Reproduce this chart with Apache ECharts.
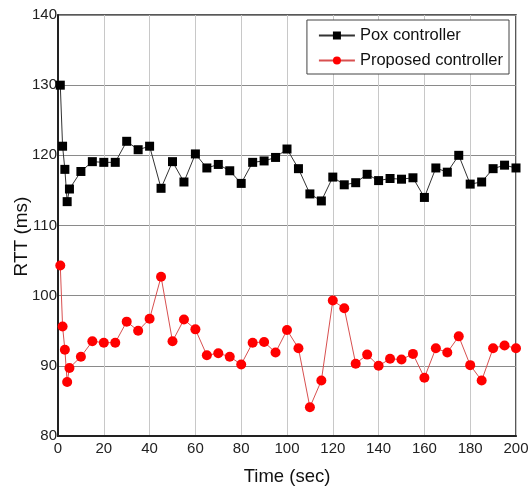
<!DOCTYPE html>
<html><head><meta charset="utf-8">
<script src="https://cdn.jsdelivr.net/npm/echarts@6/dist/echarts.min.js"></script>
<style>html,body{margin:0;padding:0;background:#fff}#c{width:528px;height:488px}</style>
</head><body><div id="c"></div>
<script>
const times = [1,2,3,4,5,10,15,20,25,30,35,40,45,50,55,60,65,70,75,80,85,90,95,100,105,110,115,120,125,130,135,140,145,150,155,160,165,170,175,180,185,190,195,200];
const poxValues = [130,121.3,118.0,113.4,115.2,117.7,119.1,119.0,119.0,122.0,120.8,121.3,115.3,119.1,116.2,120.2,118.2,118.7,117.8,116.0,119.0,119.2,119.7,120.9,118.1,114.5,113.5,116.9,115.8,116.1,117.3,116.4,116.7,116.6,116.8,114.0,118.2,117.6,120.0,115.9,116.2,118.1,118.6,118.2];
const proposedValues = [104.3,95.6,92.3,87.7,89.7,91.3,93.5,93.3,93.3,96.3,95.0,96.7,102.7,93.5,96.6,95.2,91.5,91.8,91.3,90.2,93.3,93.4,91.9,95.1,92.5,84.1,87.9,99.3,98.2,90.3,91.6,90.0,91.0,90.9,91.7,88.3,92.5,91.9,94.2,90.1,87.9,92.5,92.9,92.5];
const seriesNames = ['Pox controller','Proposed controller'];
const xTicks = {min:0,max:200,interval:20};
const yTicks = {min:80,max:140,interval:10};

const font = 'Liberation Sans';
const chart = echarts.init(document.getElementById('c'));
chart.setOption({
  animation:false,
  backgroundColor:'#fff',
  grid:{left:58,right:12,top:15,bottom:52,show:true,borderColor:'#222',borderWidth:1.5,
        containLabel:false,outerBoundsMode:'none'},
  legend:{
    orient:'vertical', right:19, top:20,
    backgroundColor:'#fff', borderColor:'#444', borderWidth:1,
    padding:[7,6,5,11], itemGap:8, itemWidth:36, itemHeight:10,
    textStyle:{fontFamily:font,fontSize:16.5,color:'#111'},
    data:seriesNames
  },
  xAxis:{
    type:'value', min:xTicks.min, max:xTicks.max, interval:xTicks.interval,
    name:'Time (sec)', nameLocation:'middle', nameGap:31,
    nameTextStyle:{fontFamily:font,fontSize:18.5,color:'#111'},
    axisLine:{show:true,lineStyle:{color:'#222',width:2}},
    axisTick:{show:false},
    axisLabel:{fontFamily:font,fontSize:15,color:'#222',margin:5,showMinLabel:true,showMaxLabel:true},
    splitLine:{show:true,lineStyle:{color:'#c8c8c8',width:1}}
  },
  yAxis:{
    type:'value', min:yTicks.min, max:yTicks.max, interval:yTicks.interval,
    name:'RTT (ms)', nameLocation:'middle', nameGap:27, nameMoveOverlap:false,
    nameTextStyle:{fontFamily:font,fontSize:19,color:'#111',padding:[0,22,0,0]},
    axisLine:{show:true,lineStyle:{color:'#222',width:2}},
    axisTick:{show:false},
    axisLabel:{fontFamily:font,fontSize:15,color:'#222',margin:1},
    splitLine:{show:true,lineStyle:{color:'#8a8a8a',width:1}}
  },
  series:[
    {name:seriesNames[0], type:'line', data:times.map((t,i)=>[t,poxValues[i]]),
     symbol:'rect', symbolSize:9, itemStyle:{color:'#000'},
     lineStyle:{color:'#333',width:1}},
    {name:seriesNames[1], type:'line', data:times.map((t,i)=>[t,proposedValues[i]]),
     symbol:'circle', symbolSize:10, itemStyle:{color:'#f00'},
     lineStyle:{color:'#d85050',width:1}}
  ]
});
</script></body></html>
